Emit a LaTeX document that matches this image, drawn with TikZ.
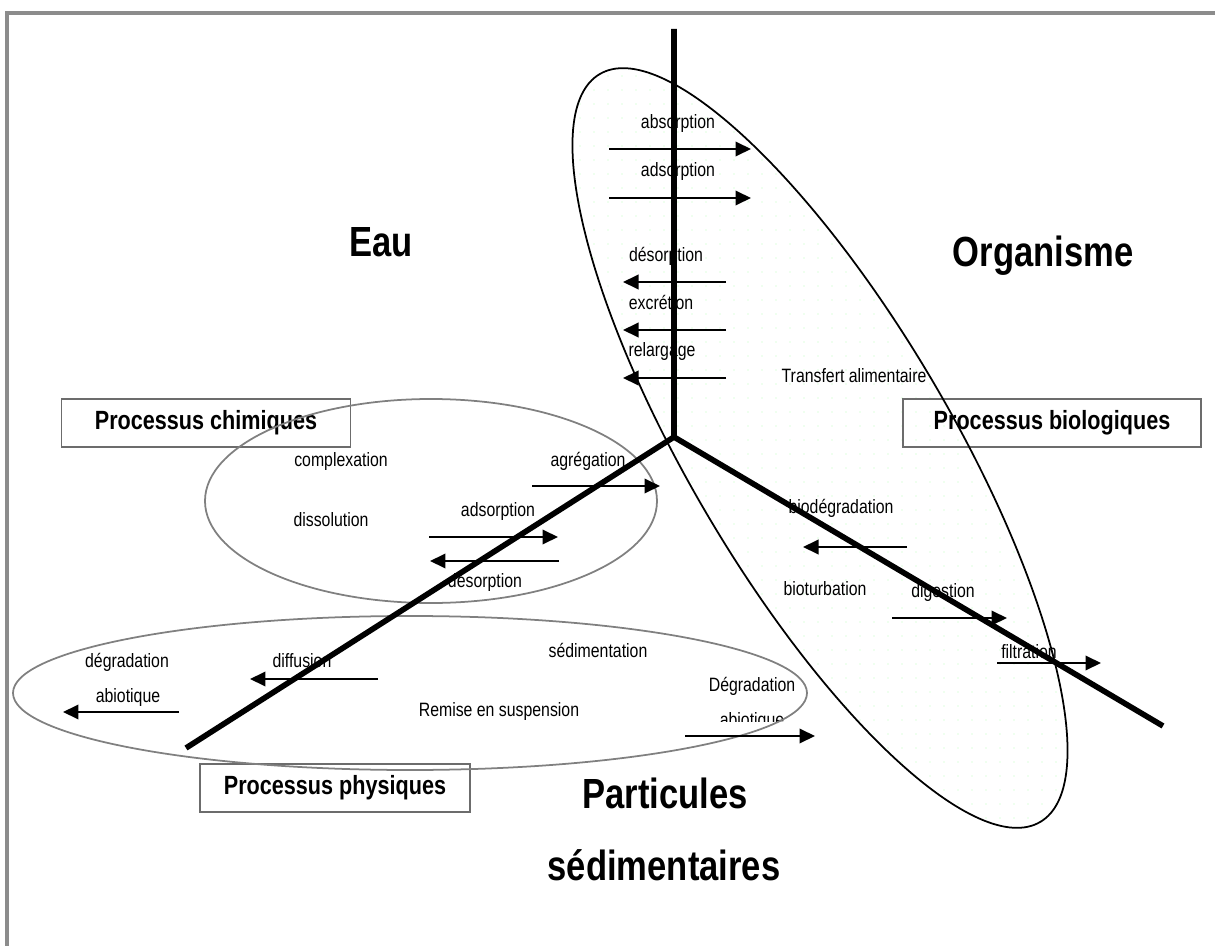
\documentclass[tikz,border=0pt]{standalone}
\usepackage{fontspec}
\setmainfont{Liberation Sans}
\usetikzlibrary{arrows.meta}

\tikzset{
  axe/.style={line width=3.2pt},
  fleche/.style={line width=1.1pt,-{Triangle[length=3.1mm,width=2.9mm]}},
  zone/.style={draw=gray,line width=1pt},
  petit/.style={font=\fontsize{11}{13}\selectfont,anchor=base,inner sep=0pt,xscale=0.82,transform shape},
  grand/.style={font=\fontsize{24}{28}\selectfont\bfseries,anchor=base,inner sep=0pt,xscale=0.82,transform shape},
  cadre/.style={draw=gray!85!black,line width=1pt,font=\fontsize{15}{18}\selectfont\bfseries,xscale=0.82,transform shape,minimum height=0.97cm,inner sep=0pt},
}

\begin{document}
\begin{tikzpicture}[x=0.02cm,y=-0.02cm]
	\useasboundingbox (0,0) rectangle (1215,946);
	% cadre de la page
	\draw[gray!90,line width=2.2pt] (7,946) -- (7,13) -- (1215,13);

	% zone organisme (pointillee)
	\begin{scope}
		\clip[rotate around={-59.5:(820,448)}] (820,448) ellipse (434 and 131);
		\foreach \x in {566,580,...,1076}
			\foreach \y in {62,76,...,834}
				\fill[green!45!white!60] (\x,\y) circle (0.35pt);
	\end{scope}

	% textes
	\node[grand] (eau) at (381,256) {Eau};
	\node[grand] (orga) at (1043,267) {Organisme};
	\node[grand] (part) at (665,808) {Particules};
	\node[grand] (sedi) at (664,880) {sédimentaires};

	\node[petit] (absorp) at (678,129) {absorption};
	\node[petit] (adsorp) at (678,177) {adsorption};
	\node[petit] (desorp) at (666,261) {désorption};
	\node[petit] (excret) at (661,309) {excrétion};
	\node[petit] (relarg) at (662,357) {relargage};
	\node[petit] (transf) at (854,382) {Transfert alimentaire};

	\node[petit] (complex) at (341,466) {complexation};
	\node[petit] (agreg) at (588,466) {agrégation};
	\node[petit] (adsorpb) at (498,516) {adsorption};
	\node[petit] (dissol) at (331,526) {dissolution};
	\node[petit] (desorpb) at (485,587) {désorption};

	\node[petit] (degrad) at (127,667) {dégradation};
	\node[petit] (abiot) at (128,702) {abiotique};
	\node[petit] (diffus) at (302,667) {diffusion};
	\node[petit] (sedim) at (598,657) {sédimentation};
	\node[petit] (remise) at (499,716) {Remise en suspension};
	\node[petit] (degradb) at (752,691) {Dégradation};
	\begin{scope}
		\clip (690,700) rectangle (820,721);
		\node[petit] (abiotb) at (752,726) {abiotique};
	\end{scope}

	\node[petit] (biodeg) at (841,513) {biodégradation};
	\node[petit] (biotur) at (825,595) {bioturbation};
	\node[petit] (digest) at (943,597) {digestion};
	\node[petit] (filtr) at (1029,658) {filtration};

	\node[cadre,minimum width=7.05cm] (chim) at (206,423) {Processus chimiques};
	\node[cadre,minimum width=7.27cm] (bio) at (1052,423) {Processus biologiques};
	\node[cadre,minimum width=6.59cm] (phys) at (335,788) {Processus physiques};

	% les trois zones
	\draw[line width=1pt,rotate around={-59.5:(820,448)}] (820,448) ellipse (434 and 131);
	\draw[zone] (431,501) ellipse (226 and 102);
	\draw[zone] (410,693) ellipse (397 and 77);

	% les trois axes
	\coordinate (c) at (674,437);
	\coordinate (haut) at (674,29);
	\coordinate (gauche) at (186,748);
	\coordinate (droite) at (1163,726);
	\draw[axe] (haut) -- (c) -- (gauche);
	\draw[axe] (c) -- (droite);

	% fleches
	\draw[fleche] (609,149) -- (751,149);
	\draw[fleche] (609,198) -- (751,198);
	\draw[fleche] (726,282) -- (623,282);
	\draw[fleche] (726,330) -- (623,330);
	\draw[fleche] (726,378) -- (623,378);

	\draw[fleche] (532,486) -- (660,486);
	\draw[fleche] (429,537) -- (558,537);
	\draw[fleche] (559,561) -- (430,561);

	\draw[fleche] (179,712) -- (63,712);
	\draw[fleche] (378,679) -- (250,679);
	\draw[fleche] (685,736) -- (815,736);

	\draw[fleche] (907,547) -- (803,547);
	\draw[fleche] (892,618) -- (1007,618);
	\draw[fleche] (997,663) -- (1101,663);
\end{tikzpicture}
\end{document}
